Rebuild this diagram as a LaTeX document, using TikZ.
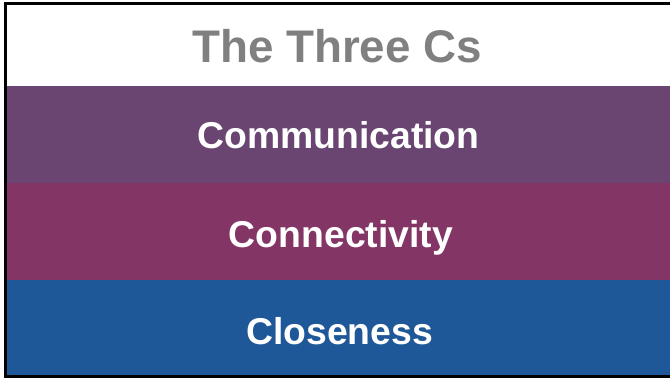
\documentclass[tikz,border=0pt]{standalone}
\usepackage{fontspec}
\setmainfont{Liberation Sans}
\definecolor{titlegray}{HTML}{808080}
\definecolor{commpurple}{HTML}{6A4571}
\definecolor{connplum}{HTML}{833566}
\definecolor{closeblue}{HTML}{1F5898}
\tikzset{
  band/.style={anchor=north west,inner sep=0pt,minimum width=663*0.75pt},
  bandtext/.style={anchor=base,inner sep=0pt,text=white,font=\fontsize{28}{32}\selectfont\bfseries},
}
\begin{document}
\begin{tikzpicture}[x=0.75pt,y=-0.75pt]
    \useasboundingbox (0,0) rectangle (670,378);

    % Bands
    \node[band,fill=commpurple,minimum height=97*0.75pt] (comm) at (7,86) {};
    \node[band,fill=connplum,minimum height=97.5*0.75pt] (conn) at (7,182.6) {};
    \node[band,fill=closeblue,minimum height=96*0.75pt] (close) at (7,279.6) {};

    % Texts
    \node[anchor=base,inner sep=0pt,font=\fontsize{34.3}{40}\selectfont\bfseries,text=titlegray] (title) at (337,63) {The Three Cs};
    \node[bandtext] (commtext) at (338.5,148) {Communication};
    \node[bandtext] (conntext) at (341,247) {Connectivity};
    \node[bandtext] (closetext) at (339.5,344) {Closeness};

    % Frame
    \draw[line width=3*0.75pt] (5.5,3.5) rectangle (680,376.5);

\end{tikzpicture}
\end{document}
